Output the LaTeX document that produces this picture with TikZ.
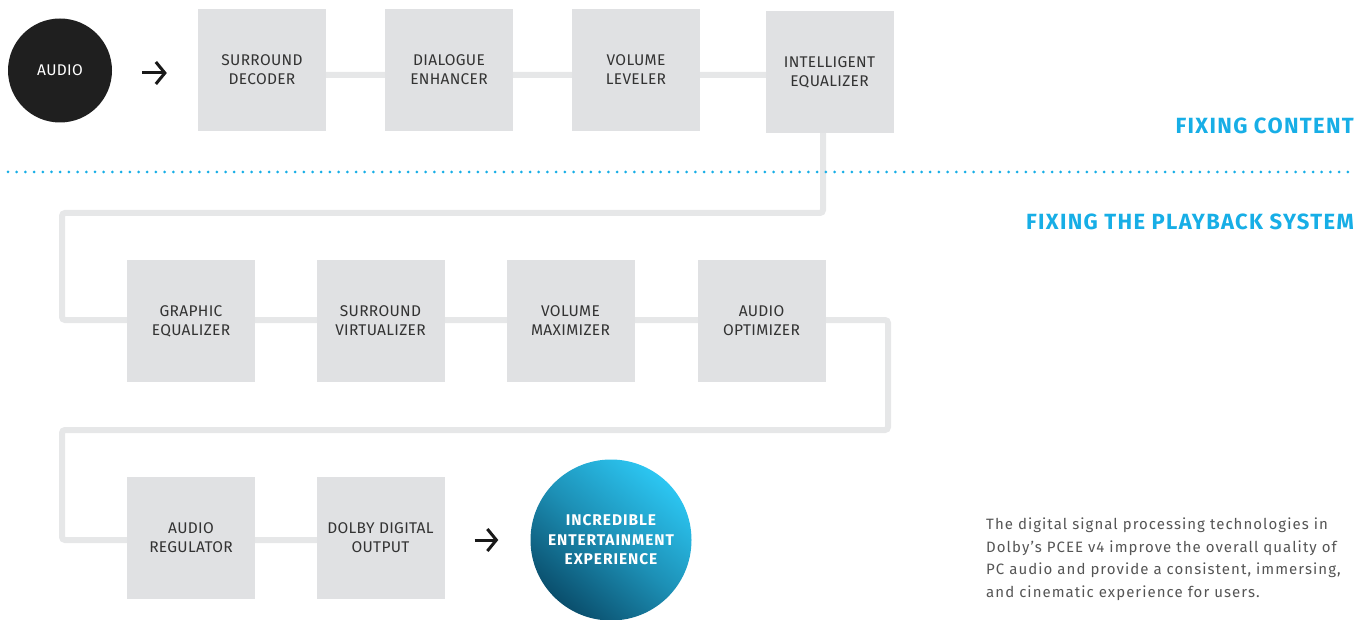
\documentclass[tikz,border=0pt]{standalone}
\usepackage{fontspec}
\setmainfont{Fira Sans}
\newfontfamily\boxfont[LetterSpace=2]{Fira Sans}
\newfontfamily\labfont[LetterSpace=6]{Fira Sans}
\newfontfamily\parafont[LetterSpace=7]{Fira Sans}
\usetikzlibrary{arrows.meta,backgrounds,calc}
\definecolor{boxgray}{HTML}{E0E1E3}
\definecolor{conngray}{HTML}{E6E7E8}
\definecolor{txtdark}{HTML}{333333}
\definecolor{cyanlab}{HTML}{17AEE6}
\definecolor{paragray}{HTML}{555555}
\definecolor{circlight}{HTML}{2CC6F2}
\definecolor{circdark}{HTML}{0A4E6C}
\tikzset{
  stagebox/.style={rectangle, fill=boxgray, minimum width=128pt, minimum height=122pt,
    inner sep=0pt, align=center, text=txtdark, font=\boxfont\fontsize{15.5}{19}\selectfont},
  conn/.style={draw=conngray, line width=6pt, rounded corners=3pt},
  arr/.style={draw=black!90, line width=3pt, -{Straight Barb[length=9pt,width=22pt]}},
  seclabel/.style={anchor=east, text=cyanlab, font=\labfont\fontsize{22}{26}\selectfont\bfseries, inner sep=0pt},
}
\begin{document}
\begin{tikzpicture}[x=1pt,y=-1pt]
\useasboundingbox (0,0) rectangle (1367,620);
% input
\node[circle, fill=black!88, minimum size=104pt, inner sep=0pt, text=white,
  font=\boxfont\fontsize{15.5}{19}\selectfont] (audio) at (60,70.5) {AUDIO};
% top row
\node[stagebox] (sd) at (262,70) {SURROUND\\DECODER};
\node[stagebox] (de) at (449,70) {DIALOGUE\\ENHANCER};
\node[stagebox] (vl) at (636,70) {VOLUME\\LEVELER};
\node[stagebox] (ie) at (829.5,72.5) {INTELLIGENT\\EQUALIZER};
% second row
\node[stagebox] (ge) at (191,321) {GRAPHIC\\EQUALIZER};
\node[stagebox] (sv) at (380.5,321) {SURROUND\\VIRTUALIZER};
\node[stagebox] (vm) at (570.5,321) {VOLUME\\MAXIMIZER};
\node[stagebox] (ao) at (761.5,321) {AUDIO\\OPTIMIZER};
% third row
\node[stagebox] (ar) at (191,538) {AUDIO\\REGULATOR};
\node[stagebox] (dd) at (380.5,538) {DOLBY DIGITAL\\OUTPUT};
% output circle
\node[circle, minimum size=161pt, inner sep=0pt, shading=axis, top color=circlight,
  bottom color=circdark, middle color=circlight!55!circdark, shading angle=-40,
  text=white, align=center, font=\labfont\fontsize{15.5}{19.5}\selectfont\bfseries] (out) at (611,540)
  {INCREDIBLE\\ENTERTAINMENT\\EXPERIENCE};
% bends
\coordinate (b0) at (823,75);
\coordinate (b1) at (823,213);
\coordinate (b2) at (62,213);
\coordinate (b3) at (62,320);
\coordinate (b4) at (888,320);
\coordinate (b5) at (888,430);
\coordinate (b6) at (62,430);
\coordinate (b7) at (62,540);
\begin{scope}[on background layer]
\draw[conn] (sd.center |- b0) -- (b0) -- (b1) -- (b2) -- (b3) -- (b4) -- (b5) -- (b6) -- (b7) -- (dd.center |- b7);
\end{scope}
% arrows
\coordinate (a1) at (sd.west |- 0,73);
\draw[arr, shorten <=30pt, shorten >=31pt] (audio.east |- a1) -- (a1);
\draw[arr, shorten <=30pt, shorten >=32pt] (dd.east |- out.west) -- (out.west);
% dotted separator
\coordinate (d1) at (8,172);
\coordinate (d2) at (1355,172);
\draw[cyanlab, line width=3pt, line cap=round, dash pattern=on 0pt off 8.7pt] (d1) -- (d2);
% section labels
\node[seclabel] (fc) at (1354,126) {FIXING CONTENT};
\node[seclabel] (fp) at (1354,222) {FIXING THE PLAYBACK SYSTEM};
% paragraph
\node[anchor=north west, inner sep=0pt, align=left, text=paragray,
  font=\parafont\fontsize{15}{22.7}\selectfont] (para) at (986,517.5)
  {The digital signal processing technologies in\\
   Dolby’s PCEE v4 improve the overall quality of\\
   PC audio and provide a consistent, immersing,\\
   and cinematic experience for users.};
\end{tikzpicture}
\end{document}
